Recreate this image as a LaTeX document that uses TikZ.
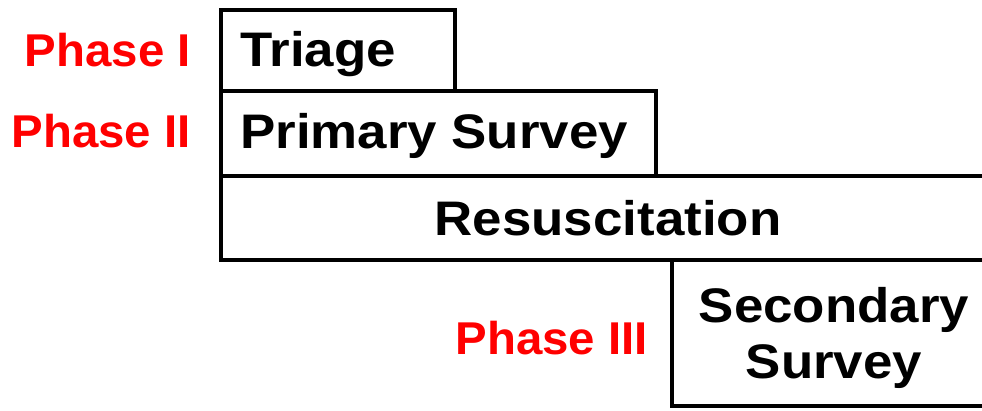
\documentclass[tikz,border=0pt]{standalone}
\usepackage{fontspec}
\setmainfont{Liberation Sans}
\definecolor{phasered}{RGB}{255,0,0}
\begin{document}
\begin{tikzpicture}[x=1pt,y=-1pt,
  box/.style={draw=black,line width=4.5pt},
  lbl/.style={font=\fontsize{48.5}{58}\selectfont\bfseries,inner sep=0pt,text=black,xscale=1.09},
  phase/.style={font=\fontsize{46}{55}\selectfont\bfseries,inner sep=0pt,text=phasered,xscale=1.03}]
\useasboundingbox (0,0) rectangle (982,410);
\clip (0,0) rectangle (982,410);
\draw[box] (221,10) rectangle (455,91);
\draw[box] (221,91) rectangle (656,176);
\draw[box] (221,176) rectangle (995,260);
\draw[box] (672,260) rectangle (995,406);
\node[lbl,anchor=base west] (triage) at (240,66) {Triage};
\node[lbl,anchor=base west] (primary) at (240,148) {Primary Survey};
\node[lbl,anchor=base] (resus) at (608,235) {Resuscitation};
\node[lbl,anchor=base] (sec1) at (834,322) {Secondary};
\node[lbl,anchor=base] (sec2) at (834,378) {Survey};
\node[phase,anchor=base east] (p1) at (191,66) {Phase I};
\node[phase,anchor=base east] (p2) at (191,147) {Phase II};
\node[phase,anchor=base east] (p3) at (648,354) {Phase III};
\end{tikzpicture}
\end{document}
